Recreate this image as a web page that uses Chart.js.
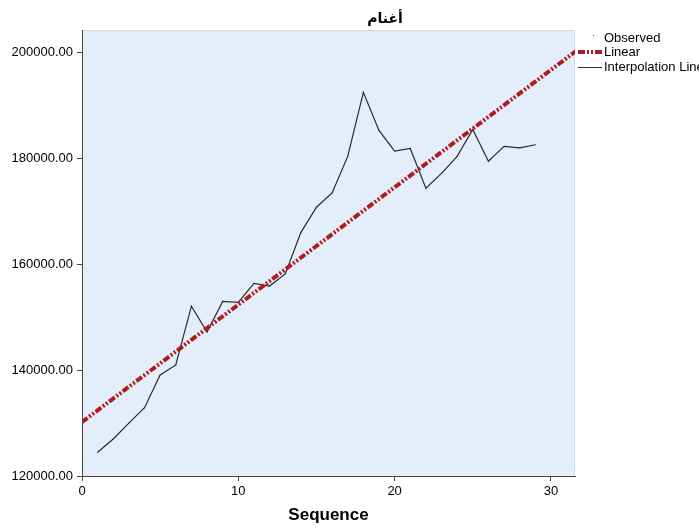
<!DOCTYPE html>
<html>
<head>
<meta charset="utf-8">
<script src="https://cdn.jsdelivr.net/npm/chart.js@4"></script>
<style>
  html, body { margin: 0; padding: 0; background: #fff; }
  #wrap { width: 699px; height: 531px; }
</style>
</head>
<body>
<div id="wrap"><canvas id="chart" width="699" height="531"></canvas></div>
<script>
// data
const sequence = [1, 2, 3, 4, 5, 6, 7, 8, 9, 10, 11, 12, 13, 14, 15, 16, 17, 18, 19, 20, 21, 22, 23, 24, 25, 26, 27, 28, 29];
const observed = [124500, 127000, 130000, 132900, 139100, 141000, 152100, 147200, 153000, 152800,
    156400, 155900, 158200, 166000, 170800, 173500, 180400, 192500, 185300, 181400,
    181900, 174400, 177200, 180400, 185500, 179500, 182300, 182000, 182600];
const linearX = [0, 31.6];
const linearY = [130200, 200300];
const yTicks = [120000, 140000, 160000, 180000, 200000];
const xTicks = [0, 10, 20, 30];
const titleText = "أغنام";
const legendLabels = ["Observed", "Linear", "Interpolation Line"];

const toPoints = (xs, ys) => xs.map((x, i) => ({ x: x, y: ys[i] }));

// light blue plot area and its thin frame
const plotBackground = {
    id: "plotBackground",
    beforeDraw(chart) {
        const { ctx, chartArea: a } = chart;
        ctx.save();
        ctx.fillStyle = "#e3eefa";
        ctx.fillRect(a.left, a.top, a.right - a.left, a.bottom - a.top);
        ctx.strokeStyle = "#d0d8e0";
        ctx.lineWidth = 1;
        ctx.beginPath();
        ctx.moveTo(a.left, a.top + 0.5);
        ctx.lineTo(a.right - 0.5, a.top + 0.5);
        ctx.lineTo(a.right - 0.5, a.bottom);
        ctx.stroke();
        ctx.restore();
    }
};

// title and the SPSS-like legend on the right
const decorations = {
    id: "decorations",
    afterDraw(chart) {
        const { ctx, chartArea: a } = chart;
        ctx.save();
        ctx.fillStyle = "#000";
        ctx.font = "bold 14px 'DejaVu Sans'";
        ctx.textAlign = "center";
        ctx.textBaseline = "middle";
        ctx.fillText(titleText, 385, 19);

        const lx = a.right + 3;
        const rows = [38, 52, 67];
        ctx.font = "13px 'Liberation Sans', Arial";
        ctx.textAlign = "left";
        ctx.fillStyle = "#000";
        legendLabels.forEach((t, i) => ctx.fillText(t, lx + 26, rows[i]));

        ctx.fillStyle = "#555";
        ctx.fillRect(lx + 15, rows[0] - 3, 1, 1);

        ctx.strokeStyle = "#b01c1c";
        ctx.lineWidth = 4;
        ctx.setLineDash([7, 2, 2, 2, 2, 2]);
        ctx.beginPath();
        ctx.moveTo(lx, rows[1]);
        ctx.lineTo(lx + 24, rows[1]);
        ctx.stroke();

        ctx.setLineDash([]);
        ctx.strokeStyle = "#333";
        ctx.lineWidth = 1;
        ctx.beginPath();
        ctx.moveTo(lx, rows[2] + 0.5);
        ctx.lineTo(lx + 24, rows[2] + 0.5);
        ctx.stroke();
        ctx.restore();
    }
};

new Chart(document.getElementById("chart"), {
    type: "scatter",
    data: {
        datasets: [
            {
                label: "Interpolation Line",
                data: toPoints(sequence, observed),
                showLine: true,
                borderColor: "#2a2a2a",
                borderWidth: 1.2,
                pointRadius: 0,
                order: 2,
            },
            {
                label: "Linear",
                data: toPoints(linearX, linearY),
                showLine: true,
                borderColor: "#b01c1c",
                borderWidth: 4,
                borderDash: [7, 2, 2, 2, 2, 2],
                borderCapStyle: "butt",
                pointRadius: 0,
                order: 1,
            },
            {
                label: "Observed",
                data: toPoints(sequence, observed),
                showLine: false,
                pointRadius: 0.6,
                pointBackgroundColor: "#555",
                pointBorderWidth: 0,
                order: 3,
            },
        ],
    },
    options: {
        responsive: false,
        animation: false,
        layout: { padding: { top: 30, right: 124, left: 0, bottom: 0 } },
        plugins: {
            legend: { display: false },
            title: { display: false },
            tooltip: { enabled: false },
        },
        scales: {
            x: {
                type: "linear",
                min: 0,
                max: 31.54,
                afterBuildTicks: (s) => { s.ticks = xTicks.map(v => ({ value: v })); },
                afterFit: (s) => { s.height = 55; },
                border: { color: "#444", width: 1 },
                grid: { drawOnChartArea: false, tickLength: 5, color: "#444" },
                ticks: {
                    color: "#000",
                    padding: 3,
                    maxRotation: 0,
                    font: { family: "'Liberation Sans', Arial", size: 13 },
                    callback: (v) => String(v),
                },
                title: {
                    display: true,
                    text: "Sequence",
                    color: "#000",
                    padding: { top: 0, bottom: 5 },
                    font: { family: "'Liberation Sans', Arial", size: 17, weight: "bold" },
                },
            },
            y: {
                min: 120000,
                max: 204290,
                afterBuildTicks: (s) => { s.ticks = yTicks.map(v => ({ value: v })); },
                afterFit: (s) => { s.width = 82; },
                border: { color: "#444", width: 1 },
                grid: { drawOnChartArea: false, tickLength: 5, color: "#444" },
                ticks: {
                    color: "#000",
                    padding: 4,
                    font: { family: "'Liberation Sans', Arial", size: 13 },
                    callback: (v) => Number(v).toFixed(2),
                },
            },
        },
    },
    plugins: [plotBackground, decorations],
});
</script>
</body>
</html>
